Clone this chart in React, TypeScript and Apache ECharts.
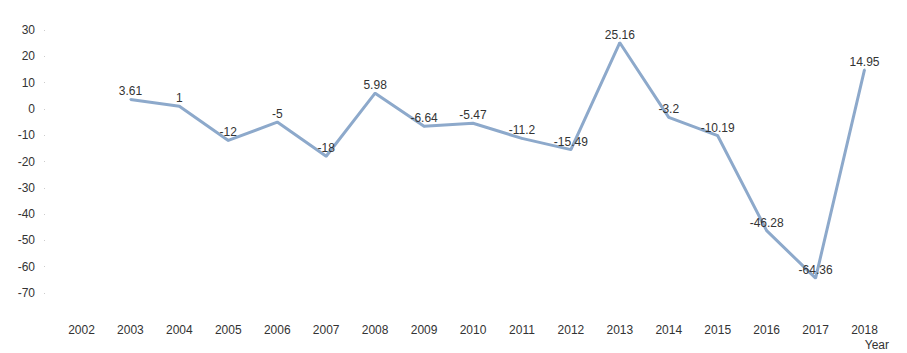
import React, { useEffect, useRef } from "react";
import * as echarts from "echarts";

const years = ["2002","2003","2004","2005","2006","2007","2008","2009","2010","2011","2012","2013","2014","2015","2016","2017","2018"];
const values: (number | null)[] = [null, 3.61, 1, -12, -5, -18, 5.98, -6.64, -5.47, -11.2, -15.49, 25.16, -3.2, -10.19, -46.28, -64.36, 14.95];

export default function App() {
  const ref = useRef<HTMLDivElement>(null);
  useEffect(() => {
    const chart = echarts.init(ref.current!, null, { renderer: "svg" });
    chart.setOption({
      animation: false,
      textStyle: { fontFamily: "Liberation Sans, Arial, sans-serif" },
      grid: { left: 57, right: 18, top: 30, bottom: 60 },
      xAxis: {
        type: "category",
        data: years,
        boundaryGap: true,
        name: "Year",
        nameLocation: "end",
        nameGap: 0,
        nameTextStyle: { color: "#333", fontSize: 12, align: "right", verticalAlign: "top", padding: [46, 0, 0, 0] },
        axisLine: { show: false, onZero: false },
        axisTick: { show: false },
        axisLabel: { color: "#333", fontSize: 12, margin: 31, interval: 0 },
        splitLine: { show: false },
      },
      yAxis: {
        type: "value",
        min: -70,
        max: 30,
        interval: 10,
        offset: 12,
        axisLine: { show: false },
        axisTick: { show: true, length: 1, lineStyle: { color: "#ccc" } },
        axisLabel: { color: "#333", fontSize: 12, margin: 10 },
        splitLine: { show: false },
      },
      series: [
        {
          type: "line",
          data: values,
          symbol: "circle",
          symbolSize: 2,
          showSymbol: true,
          itemStyle: { color: "#8DA9CB", borderWidth: 0 },
          connectNulls: false,
          lineStyle: { color: "#8DA9CB", width: 3 },
          label: { show: true, position: "top", color: "#333", fontSize: 12, distance: 1 },
        },
      ],
    });
    return () => chart.dispose();
  }, []);
  return <div ref={ref} style={{ width: 907, height: 353, position: "absolute", left: 0, top: 0 }} />;
}
